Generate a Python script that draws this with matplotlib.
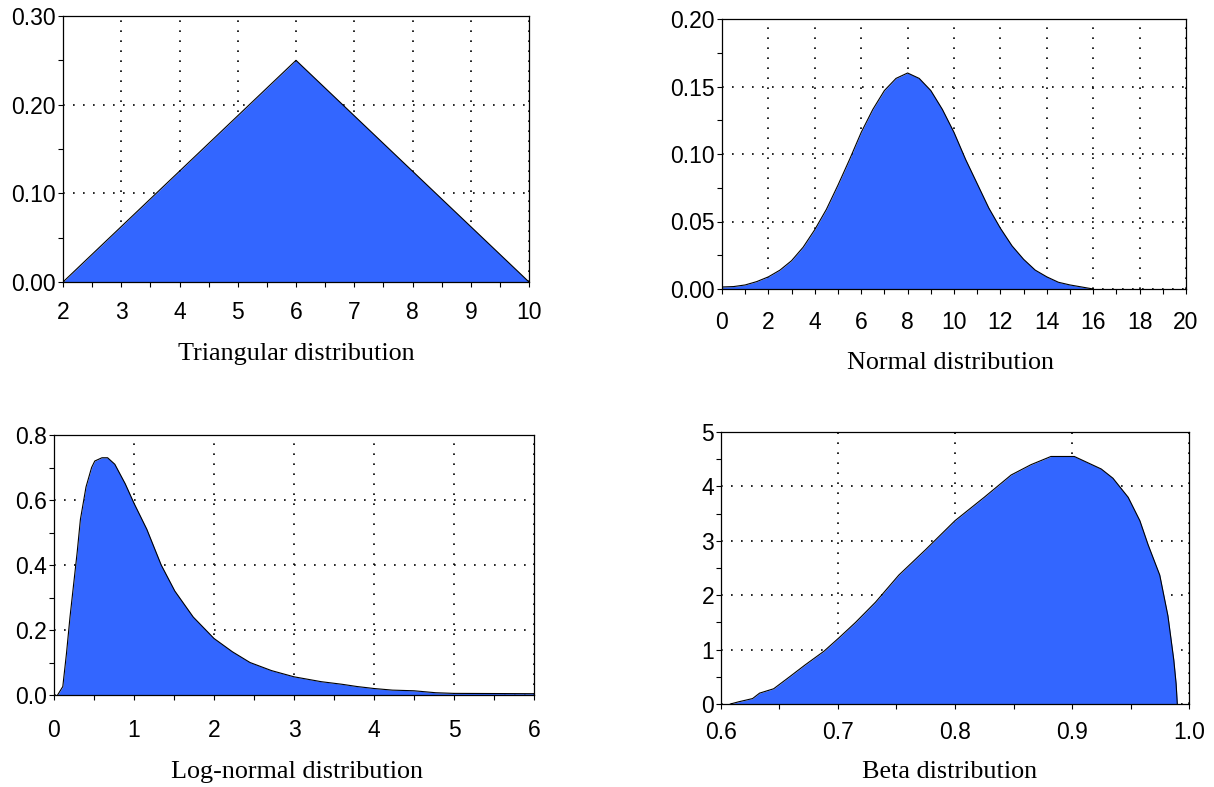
import matplotlib
matplotlib.use('Agg')
import matplotlib.pyplot as plt
from matplotlib import ticker

plt.rcParams['font.family'] = ['Liberation Sans', 'DejaVu Sans']

# triangular
triX = [2, 6, 10]
triY = [0.0, 0.25, 0.0]

# normal
normX = [0, 0.5, 1, 1.5, 2, 2.5, 3, 3.5, 4, 4.5, 5, 5.5, 6, 6.5, 7, 7.5, 8,
         8.5, 9, 9.5, 10, 10.5, 11, 11.5, 12, 12.5, 13, 13.5, 14, 14.5, 15, 15.5, 16]
normY = [0.0015, 0.0018, 0.003, 0.0055, 0.009, 0.014, 0.021, 0.031, 0.044, 0.059,
         0.077, 0.096, 0.116, 0.133, 0.147, 0.156, 0.160, 0.156, 0.147, 0.133,
         0.116, 0.096, 0.078, 0.060, 0.045, 0.032, 0.022, 0.014, 0.009, 0.005,
         0.003, 0.0015, 0.0]

# log-normal
logX = [0.045, 0.11, 0.156, 0.2, 0.245, 0.29, 0.33, 0.4, 0.47, 0.51, 0.6, 0.67,
        0.76, 0.89, 1.0, 1.16, 1.34, 1.51, 1.74, 2.0, 2.23, 2.45, 2.72, 3.0,
        3.34, 3.6, 3.79, 4.0, 4.23, 4.5, 4.77, 5.0, 6.0]
logY = [0.0, 0.026, 0.128, 0.24, 0.34, 0.44, 0.54, 0.64, 0.70, 0.72, 0.73, 0.73,
        0.71, 0.65, 0.59, 0.51, 0.40, 0.32, 0.24, 0.174, 0.133, 0.10, 0.075, 0.056,
        0.041, 0.033, 0.026, 0.02, 0.015, 0.013, 0.007, 0.005, 0.004]

# beta
betaX = [0.608, 0.615, 0.627, 0.633, 0.645, 0.658, 0.672, 0.688, 0.701, 0.715,
         0.732, 0.752, 0.775, 0.8, 0.825, 0.848, 0.865, 0.882, 0.902, 0.908,
         0.925, 0.935, 0.948, 0.958, 0.965, 0.975, 0.982, 0.987, 0.989, 0.99]
betaY = [0.0, 0.04, 0.1, 0.2, 0.28, 0.49, 0.72, 0.97, 1.22, 1.5, 1.87, 2.37, 2.84,
         3.37, 3.8, 4.21, 4.4, 4.55, 4.55, 4.49, 4.32, 4.15, 3.8, 3.37, 2.93,
         2.37, 1.62, 0.81, 0.37, 0.0]

fillColor = '#3366ff'
W, H = 1214, 787

fig = plt.figure(figsize=(W / 100, H / 100), dpi=100)


def makePanel(box, x, y, xlim, ylim, xmaj, xmin, ymaj, ymin, xfmt, yfmt, xpad, title, titlePos):
    left, top, right, bottom = box
    ax = fig.add_axes([left / W, 1 - bottom / H, (right - left) / W, (bottom - top) / H])
    ax.set_axisbelow(True)
    ax.fill_between(x, y, 0, color=fillColor, lw=0, zorder=2)
    ax.plot(x, y, color='black', lw=0.8, zorder=3)
    ax.set_xlim(xlim)
    ax.set_ylim(ylim)
    ax.xaxis.set_major_locator(ticker.MultipleLocator(xmaj))
    ax.xaxis.set_minor_locator(ticker.MultipleLocator(xmin))
    ax.yaxis.set_major_locator(ticker.MultipleLocator(ymaj))
    ax.yaxis.set_minor_locator(ticker.MultipleLocator(ymin))
    ax.xaxis.set_major_formatter(ticker.FormatStrFormatter(xfmt))
    ax.yaxis.set_major_formatter(ticker.FormatStrFormatter(yfmt))
    ax.tick_params(which='both', direction='out', length=3.5, width=0.8, labelsize=16.5)
    ax.tick_params(axis='x', which='major', pad=xpad)
    ax.tick_params(axis='y', which='major', pad=1.5)
    for s in ax.spines.values():
        s.set_linewidth(0.9)
    ax.grid(True, which='major', color='black', lw=1.2, linestyle=(0, (1, 5)))
    fig.text(titlePos[0] / W, 1 - titlePos[1] / H, title, ha='center', va='center',
             fontsize=18.8, family=['Liberation Serif', 'DejaVu Serif'])
    return ax


makePanel((63, 16, 529, 282), triX, triY, (2, 10), (0, 0.30), 1, 0.5, 0.1, 0.05,
          '%d', '%.2f', 10.5, 'Triangular distribution', (296, 354))
makePanel((722, 19, 1186, 289), normX, normY, (0, 20), (0, 0.20), 2, 1, 0.05, 0.025,
          '%d', '%.2f', 12.5, 'Normal distribution', (950, 363))
makePanel((54, 435, 534, 695), logX, logY, (0, 6), (0, 0.8), 1, 0.5, 0.2, 0.1,
          '%d', '%.1f', 13.5, 'Log-normal distribution', (297, 772))
makePanel((721, 432, 1189, 704), betaX, betaY, (0.6, 1.0), (0, 5), 0.1, 0.05, 1, 0.5,
          '%.1f', '%d', 8.5, 'Beta distribution', (950, 772))

plt.savefig('out.png', dpi=100)
